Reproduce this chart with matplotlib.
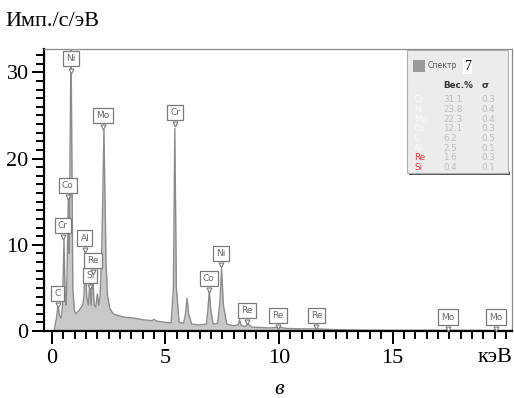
import matplotlib
matplotlib.use("Agg")
import matplotlib.pyplot as plt
from matplotlib.patches import Rectangle
from matplotlib.ticker import MultipleLocator

# ---- data ----
energy_kev = [0.10, 0.15, 0.20, 0.27, 0.33, 0.40, 0.47, 0.53, 0.58, 0.62, 0.66, 0.72, 0.76,
              0.84, 0.92, 0.98, 1.05, 1.20, 1.35, 1.41, 1.47, 1.53, 1.60, 1.67, 1.72, 1.80,
              1.86, 1.93, 2.00, 2.06, 2.12, 2.20, 2.29, 2.38, 2.45, 2.55, 2.70, 2.90, 3.20,
              3.60, 4.00, 4.40, 4.50, 4.60, 5.00, 5.25, 5.35, 5.41, 5.48, 5.60, 5.80, 5.88,
              5.95, 6.02, 6.15, 6.50, 6.80, 6.87, 6.93, 6.99, 7.10, 7.30, 7.40, 7.47, 7.55,
              7.70, 8.00, 8.20, 8.26, 8.32, 8.50, 8.65, 8.80, 9.20, 9.60, 10.00, 10.30, 11.00,
              11.70, 12.50, 13.50, 15.00, 17.50, 19.60, 20.20]
counts = [0.0, 0.8, 1.5, 3.0, 1.8, 1.5, 3.0, 10.7, 4.0, 3.0, 6.0, 15.3, 9.0,
          34.0, 5.0, 2.5, 2.0, 2.4, 3.0, 4.0, 9.2, 4.0, 3.0, 5.5, 3.0, 6.3,
          3.0, 2.8, 4.3, 3.0, 4.0, 10.0, 23.3, 8.0, 4.0, 2.6, 2.0, 1.8, 1.6,
          1.5, 1.3, 1.2, 1.35, 1.15, 1.0, 0.95, 5.0, 23.5, 5.0, 1.0, 0.9, 2.0,
          3.8, 2.0, 0.8, 0.7, 0.8, 2.5, 4.7, 2.5, 0.8, 0.9, 3.5, 7.2, 3.0,
          0.8, 0.6, 0.7, 1.3, 0.7, 0.5, 0.8, 0.45, 0.4, 0.35, 0.45, 0.3, 0.25,
          0.25, 0.15, 0.1, 0.07, 0.08, 0.05, 0.05]

peak_labels = ["C", "Cr", "Co", "Ni", "Al", "Si", "Re", "Mo", "Cr", "Co", "Ni", "Re", "Re", "Re", "Mo", "Mo"]
peak_energy = [0.25, 0.48, 0.70, 0.84, 1.45, 1.68, 1.80, 2.25, 5.42, 6.90, 7.44, 8.60, 9.95, 11.65, 17.45, 19.55]
peak_tip = [3.0, 10.9, 15.5, 30.2, 9.4, 5.1, 6.8, 23.6, 24.0, 4.75, 7.6, 1.0, 0.45, 0.45, 0.25, 0.25]

x_ticks = [0, 5, 10, 15]
y_ticks = [0, 10, 20, 30]

legend_title = "Спектр"
legend_number = "7"
legend_elements = ["Cr", "Ni", "Mo", "Co", "C", "Al", "Re", "Si"]
legend_wt = ["31.1", "23.8", "22.3", "12.1", "6.2", "2.5", "1.6", "0.4"]
legend_sigma = ["0.3", "0.4", "0.4", "0.3", "0.5", "0.1", "0.3", "0.1"]

# ---- figure ----
W, H = 514, 398
fig = plt.figure(figsize=(W / 100, H / 100), dpi=100)

def fx(x):
    return x / W

def fy(y):
    return 1 - y / H

ax_l, ax_r, ax_t, ax_b = 44, 512, 49, 331
ax = fig.add_axes([fx(ax_l), fy(ax_b), (ax_r - ax_l) / W, (ax_b - ax_t) / H])
ax.set_xlim(-0.35, 20.26)
ax.set_ylim(0, 32.7)

ax.fill_between(energy_kev, counts, 0, color="#c8c8c8", lw=0, zorder=1)
ax.plot(energy_kev, counts, color="#8c8c8c", lw=1.0, zorder=2)

serif = ["Liberation Serif", "DejaVu Serif"]
ax.set_xticks(x_ticks)
ax.set_yticks(y_ticks)
ax.set_xticklabels([str(v) for v in x_ticks], fontsize=16, family=serif)
ax.set_yticklabels([str(v) for v in y_ticks], fontsize=16, family=serif)
ax.xaxis.set_minor_locator(MultipleLocator(0.5))
ax.yaxis.set_minor_locator(MultipleLocator(1))
ax.tick_params(axis="both", which="major", direction="out", length=9, width=1.4, color="black", pad=2)
ax.tick_params(axis="both", which="minor", direction="out", length=6, width=1.4, color="black")
ax.tick_params(axis="x", which="major", pad=4)
for s in ["left", "bottom"]:
    ax.spines[s].set_color("black")
    ax.spines[s].set_linewidth(1.6)
for s in ["top", "right"]:
    ax.spines[s].set_color("#8a8a8a")
    ax.spines[s].set_linewidth(0.9)

# peak labels
for name, e, tip in zip(peak_labels, peak_energy, peak_tip):
    ax.annotate(name, xy=(e, tip), xytext=(0, 8.5), textcoords="offset points",
                ha="center", va="center", fontsize=6.5, color="#666666",
                family="DejaVu Sans", zorder=5,
                bbox=dict(boxstyle="square,pad=0.35", fc="white", ec="#7a7a7a", lw=0.9))
    ax.plot([e], [tip], marker="v", ms=3.5, mfc="white", mec="#7a7a7a", mew=0.8,
            zorder=6, ls="none")

# legend panel
lx0, ly0, lx1, ly1 = 407, 50, 508, 173
fig.patches.append(Rectangle((fx(lx0 + 2), fy(ly1 + 2)), (lx1 - lx0) / W, 3 / H,
                             transform=fig.transFigure, fc="#555555", ec="none", zorder=7))
fig.patches.append(Rectangle((fx(lx0), fy(ly1)), (lx1 - lx0) / W, (ly1 - ly0) / H,
                             transform=fig.transFigure, fc="#ececec", ec="#b0b0b0",
                             lw=0.8, zorder=8))
fig.patches.append(Rectangle((fx(413), fy(72)), 12 / W, 12 / H, transform=fig.transFigure,
                             fc="#9a9a9a", ec="none", zorder=9))
fig.text(fx(428), fy(66), legend_title, fontsize=5.6, color="#555555", va="center",
         ha="left", zorder=10)
fig.text(fx(464), fy(66), legend_number, fontsize=10, family=serif, color="black",
         va="center", ha="left", zorder=10,
         bbox=dict(boxstyle="square,pad=0.1", fc="white", ec="none"))
fig.text(fx(443), fy(86), "Вес.%", fontsize=6.3, fontweight="bold", color="#333333",
         va="center", ha="left", zorder=10)
fig.text(fx(482), fy(86), "σ", fontsize=6.5, fontweight="bold", color="#333333",
         va="center", ha="left", zorder=10)
for i, (el, wt, sg) in enumerate(zip(legend_elements, legend_wt, legend_sigma)):
    y = 100 + i * 9.6
    col = "#e03a3a" if el in ("Re", "Si") else "#fafafa"
    fig.text(fx(414), fy(y), el, fontsize=6.3, color=col, va="center", ha="left", zorder=10)
    fig.text(fx(443), fy(y), wt, fontsize=6.3, color="#bdbdbd", va="center", ha="left", zorder=10)
    fig.text(fx(481), fy(y), sg, fontsize=6.3, color="#bdbdbd", va="center", ha="left", zorder=10)

# axis texts
fig.text(fx(5), fy(21), "Имп./с/эВ", fontsize=16, family=serif, va="center", ha="left")
fig.text(fx(512), fy(357), "кэВ", fontsize=16, family=serif, va="center", ha="right")
fig.text(fx(279), fy(380), "в", fontsize=16, family=serif, style="italic", va="top", ha="center")

fig.savefig("out.png", dpi=100)
